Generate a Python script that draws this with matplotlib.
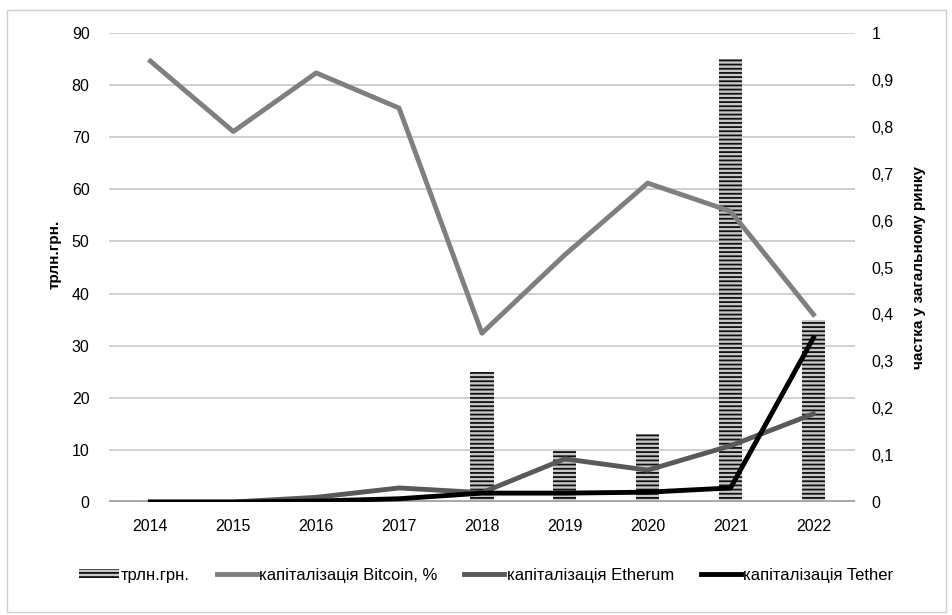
import numpy as np
import matplotlib.pyplot as plt
from matplotlib.patches import Rectangle
from matplotlib.lines import Line2D

plt.rcParams['font.family'] = ['Liberation Sans', 'DejaVu Sans']
plt.rcParams['hatch.linewidth'] = 1.3

# Дані
years = ['2014', '2015', '2016', '2017', '2018', '2019', '2020', '2021', '2022']
trln = [0.3, 0, 0, 0, 25, 10, 13, 85, 35]
bitcoin = [0.94, 0.79, 0.915, 0.84, 0.36, 0.527, 0.68, 0.62, 0.40]
etherum = [0, 0, 0.01, 0.03, 0.02, 0.092, 0.068, 0.12, 0.188]
tether = [0, 0, 0.002, 0.007, 0.019, 0.019, 0.021, 0.03, 0.35]

x = np.arange(len(years))

fig = plt.figure(figsize=(9.53, 6.15), dpi=100)
ax = fig.add_axes([0.1144, 0.1837, 0.7826, 0.7626])

ax.bar(x, trln, width=0.28, color='#c8c8c8', edgecolor='#111111',
       hatch='----', linewidth=0, zorder=2)
ax.set_xlim(-0.5, len(years) - 0.5)
ax.set_ylim(0, 90)
ax.set_yticks(np.arange(0, 91, 10))
ax.grid(axis='y', color='#c8c8c8', linewidth=1.2, zorder=0)
ax.set_axisbelow(True)
ax.axhline(0, color='#a6a6a6', linewidth=3.5, zorder=3)
for s in ax.spines.values():
    s.set_visible(False)
ax.tick_params(length=0, labelsize=11.5, pad=12)
ax.tick_params(axis='y', pad=14)
ax.set_xticks(x)
ax.set_xticklabels(years)
ax.set_ylabel('трлн.грн.', fontsize=11, fontweight='bold')
ax.yaxis.set_label_coords(-0.063, 0.527)

ax2 = ax.twinx()
ax2.set_ylim(0, 1)
ax2.set_yticks(np.arange(0, 1.01, 0.1))
ax2.set_yticklabels(['0'] + [f'0,{i}' for i in range(1, 10)] + ['1'])
for s in ax2.spines.values():
    s.set_visible(False)
ax2.tick_params(length=0, labelsize=11.5, pad=12)
ax2.plot(x, bitcoin, color='#7f7f7f', linewidth=3.5, zorder=4)
ax2.plot(x, etherum, color='#595959', linewidth=3.5, zorder=4)
ax2.plot(x, tether, color='#000000', linewidth=3.5, zorder=5)
ax2.set_ylabel('частка у загальному ринку', fontsize=11, fontweight='bold')
ax2.yaxis.set_label_coords(1.076, 0.5)

handles = [
    Rectangle((0, 0), 1, 1, facecolor='#c8c8c8', edgecolor='#111111', hatch='----', linewidth=0),
    Line2D([], [], color='#7f7f7f', linewidth=3.5),
    Line2D([], [], color='#595959', linewidth=3.5),
    Line2D([], [], color='#000000', linewidth=3.5),
]
labels = ['трлн.грн.', 'капіталізація Bitcoin, %', 'капіталізація Etherum', 'капіталізація Tether']
fig.legend(handles, labels, loc='center', bbox_to_anchor=(0.51, 0.065), ncol=4,
           frameon=False, fontsize=12, handlelength=2.4, handleheight=0.5,
           handletextpad=0.15, columnspacing=1.6)

fig.patches.append(Rectangle((7 / 953, 3 / 615), 939 / 953, 602 / 615,
                             transform=fig.transFigure, fill=False,
                             edgecolor='#d0d0d0', linewidth=1))

fig.savefig('out.png', dpi=100)
